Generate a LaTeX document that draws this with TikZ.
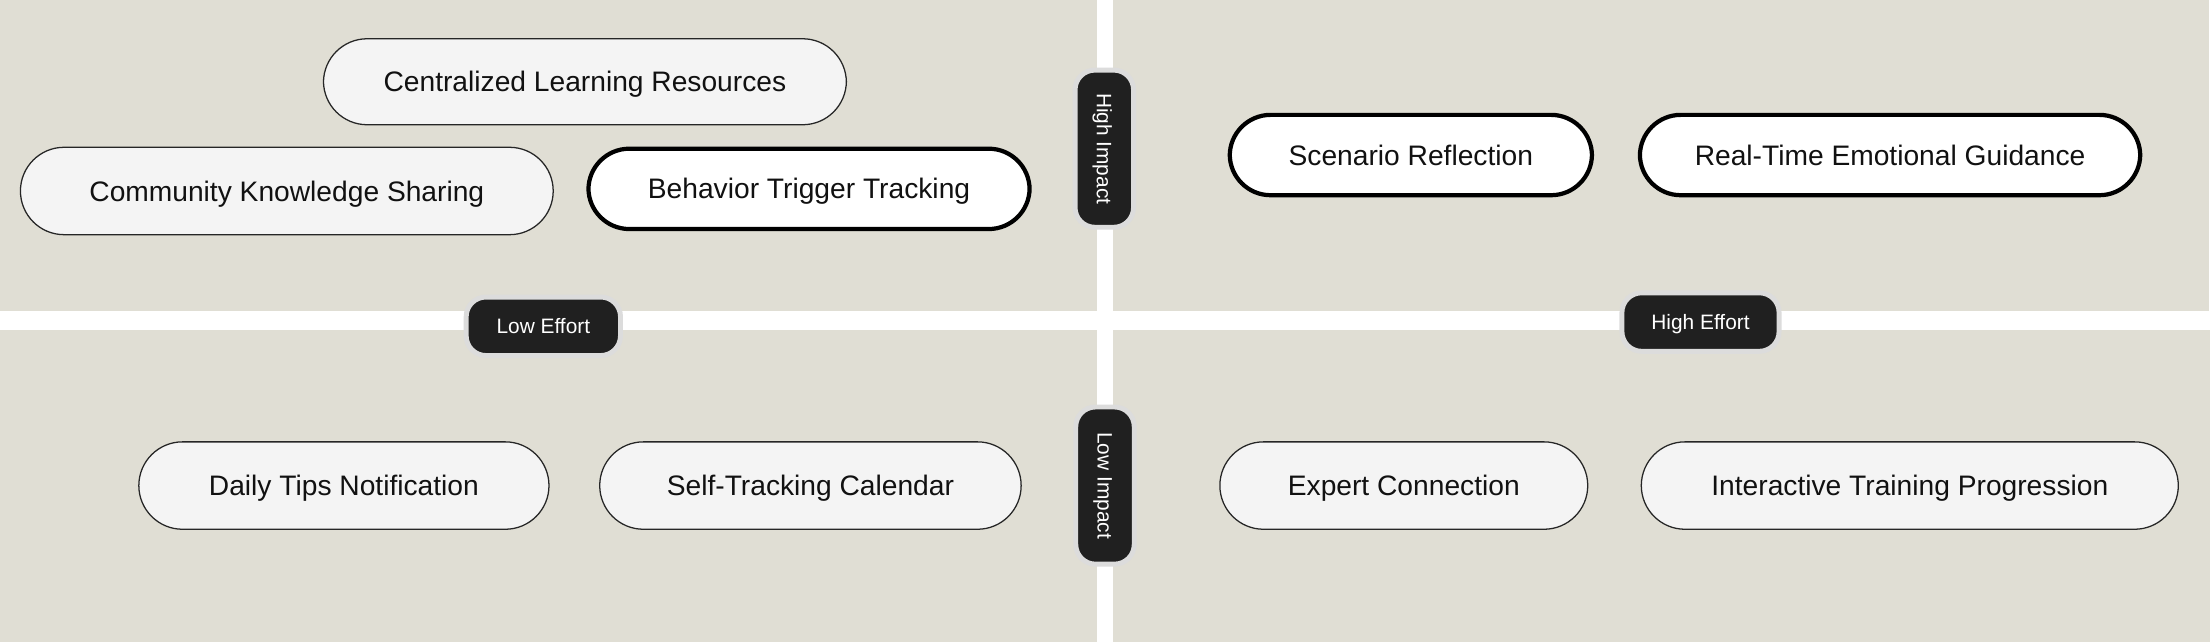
\documentclass[tikz,border=0pt]{standalone}
\usepackage{fontspec}
\setmainfont{Liberation Sans}
\definecolor{bgq}{HTML}{E0DED4}
\definecolor{pillfill}{HTML}{F4F4F4}
\definecolor{darkbox}{HTML}{202020}
\definecolor{halo}{HTML}{DCDCDC}
\definecolor{txt}{HTML}{111111}
\tikzset{
  quad/.style={fill=bgq, draw=none},
  pilltext/.style={font=\fontsize{20}{24}\selectfont, text=txt, inner sep=0pt, anchor=center,
     text height=14.3pt, text depth=0pt},
  softpill/.style={pilltext, draw=black!85, line width=0.9pt, fill=pillfill, rounded corners=31pt},
  boldpill/.style={pilltext, draw=black, line width=3pt, fill=white, rounded corners=29pt},
  axisbox/.style={fill=darkbox, draw=halo, line width=3.5pt, inner sep=0pt,
     rounded corners=14pt, anchor=center},
  axistext/.style={text=white, inner sep=0pt, font=\fontsize{14.8}{17}\selectfont,
     text height=10.6pt, text depth=0pt},
}
\begin{document}
\begin{tikzpicture}[x=1pt,y=-1pt]
\useasboundingbox (0,0) rectangle (1568,455.5);
\fill[white] (0,0) rectangle (1568,455.5);
% quadrants
\fill[quad] (0,0) rectangle (778,221);
\fill[quad] (790,0) rectangle (1567,221);
\fill[quad] (0,234) rectangle (778,455.5);
\fill[quad] (790,234) rectangle (1568,455.5);

% top-left (low effort, high impact)
\node[softpill, minimum width=371, minimum height=61] (clr) at (415,58) {Centralized Learning Resources};
\node[softpill, minimum width=378, minimum height=62] (cks) at (203.5,135.5) {Community Knowledge Sharing};
\node[boldpill, minimum width=313, minimum height=57] (btt) at (574,134) {Behavior Trigger Tracking};

% top-right
\node[boldpill, minimum width=257, minimum height=57] (sr) at (1001,110) {Scenario Reflection};
\node[boldpill, minimum width=355, minimum height=57] (rteg) at (1341,110) {Real-Time Emotional Guidance};

% bottom-left
\node[softpill, minimum width=291, minimum height=62] (dtn) at (244,344.5) {Daily Tips Notification};
\node[softpill, minimum width=299, minimum height=62] (stc) at (575,344.5) {Self-Tracking Calendar};

% bottom-right
\node[softpill, minimum width=261, minimum height=62] (ec) at (996,344.5) {Expert Connection};
\node[softpill, minimum width=381, minimum height=62] (itp) at (1355,344.5) {Interactive Training Progression};

% axis labels
\node[axisbox, minimum width=41.5, minimum height=111.5] (hi) at (783.5,105.5) {};
\node[axistext, rotate=-90] (hit) at (hi.center) {High Impact};
\node[axisbox, minimum width=41.5, minimum height=111.5] (li) at (784,344.5) {};
\node[axistext, rotate=-90] (lit) at (li.center) {Low Impact};
\node[axisbox, minimum width=109.5, minimum height=41.5] (le) at (385.5,231.5) {};
\node[axistext] (let) at (le.center) {Low Effort};
\node[axisbox, minimum width=111.5, minimum height=41.5] (he) at (1206.5,228.5) {};
\node[axistext] (het) at (he.center) {High Effort};
\end{tikzpicture}
\end{document}
